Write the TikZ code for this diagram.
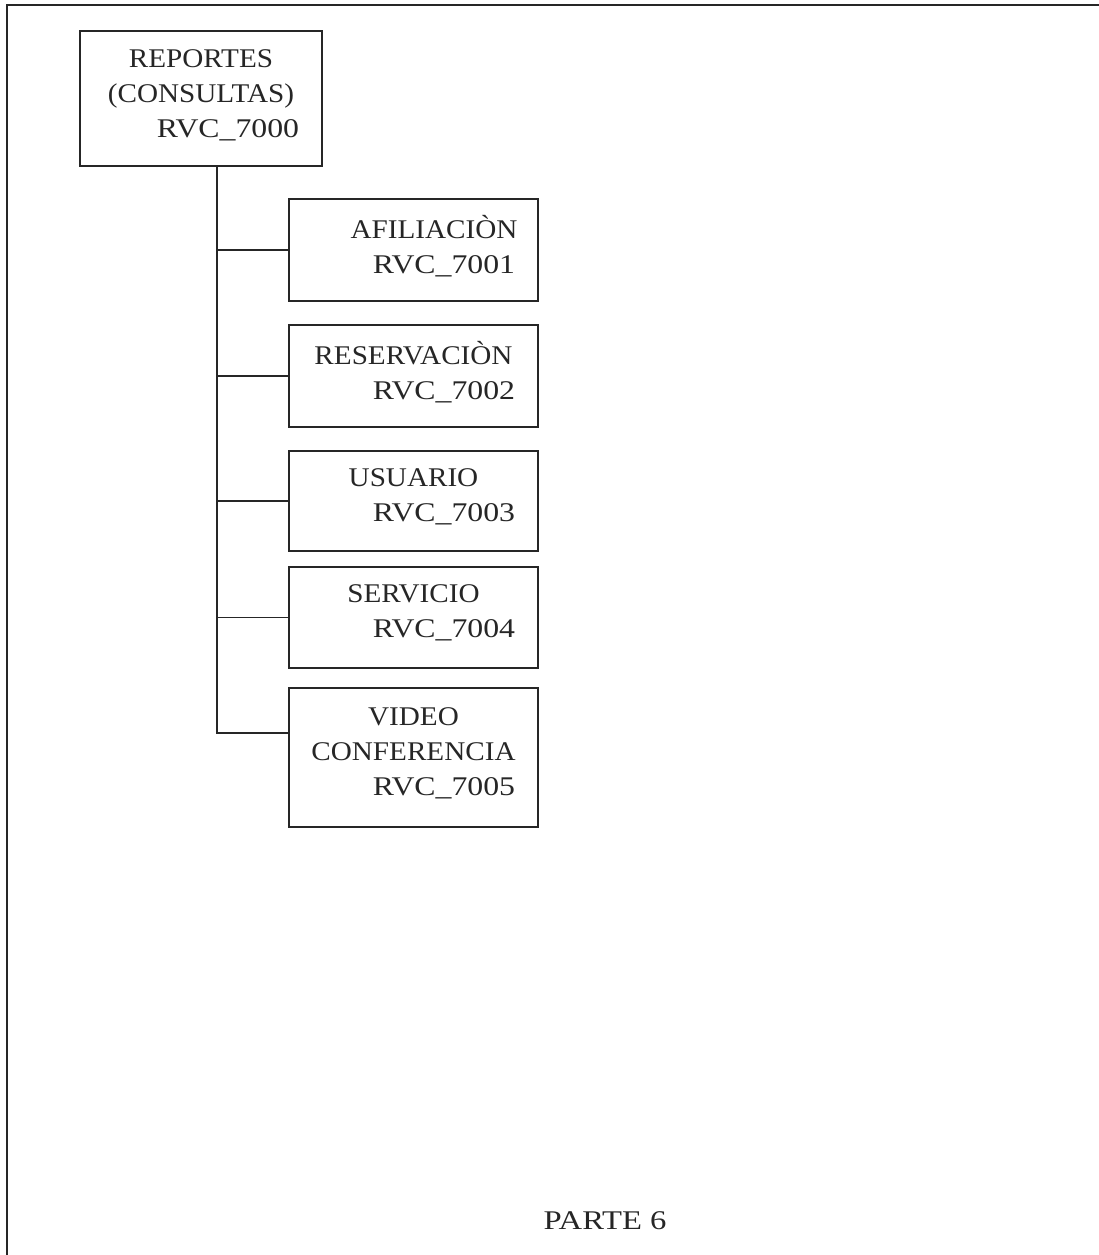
\documentclass[tikz,border=0pt]{standalone}
\usepackage{fontspec}
\setmainfont[FakeStretch=1.08]{Liberation Serif}
\newcommand\wdr[1]{\scalebox{1.09}[1]{#1}}
\newcommand\lowstrut[1]{\rule[-#1]{0pt}{#1}}
\begin{document}
\begin{tikzpicture}[x=1pt,y=-1pt,
  box/.style={draw=black!85,line width=1.6pt,rectangle,align=center,inner sep=0pt,
    font=\fontsize{27}{35}\selectfont,text=black!85},
  conn/.style={draw=black!85,line width=1.6pt},
  frame/.style={draw=black!85,line width=1.8pt}]
\useasboundingbox (0,0) rectangle (1099,1255);
\draw[frame] (7,1255) -- (7,5) -- (1099,5);
\node[box,minimum width=242pt,minimum height=135pt] (top) at (201,98.5)
  {REPORTES\\(CONSULTAS)\\\hspace*{54pt}\wdr{RVC\_7000}\lowstrut{9pt}};
\node[box,minimum width=249pt,minimum height=102pt] (c1) at (413.5,250)
  {\hspace*{41pt}AFILIACIÒN\\\hspace*{61pt}\wdr{RVC\_7001}\lowstrut{12pt}};
\node[box,minimum width=249pt,minimum height=102pt] (c2) at (413.5,376)
  {RESERVACIÒN\\\hspace*{61pt}\wdr{RVC\_7002}\lowstrut{12pt}};
\node[box,minimum width=249pt,minimum height=100pt] (c3) at (413.5,501)
  {USUARIO\\\hspace*{61pt}\wdr{RVC\_7003}\lowstrut{12pt}};
\node[box,minimum width=249pt,minimum height=101pt] (c4) at (413.5,617.5)
  {SERVICIO\\\hspace*{61pt}\wdr{RVC\_7004}\lowstrut{12pt}};
\node[box,minimum width=249pt,minimum height=139pt] (c5) at (413.5,757.5)
  {VIDEO\\CONFERENCIA\\\hspace*{61pt}\wdr{RVC\_7005}\lowstrut{12pt}};
\node[font=\fontsize{27}{35}\selectfont,text=black!85] (parte) at (605,1221) {\scalebox{1.12}[1]{PARTE 6}};
\coordinate (t0) at ([xshift=16pt]top.south);
\coordinate (b5) at ([yshift=24.5pt]c5.west);
\draw[conn] (t0) |- (c1.west);
\draw[conn] (t0) |- (c2.west);
\draw[conn] (t0) |- (c3.west);
\draw[conn] (t0) |- (c4.west);
\draw[conn] (t0) |- (b5);
\end{tikzpicture}
\end{document}
